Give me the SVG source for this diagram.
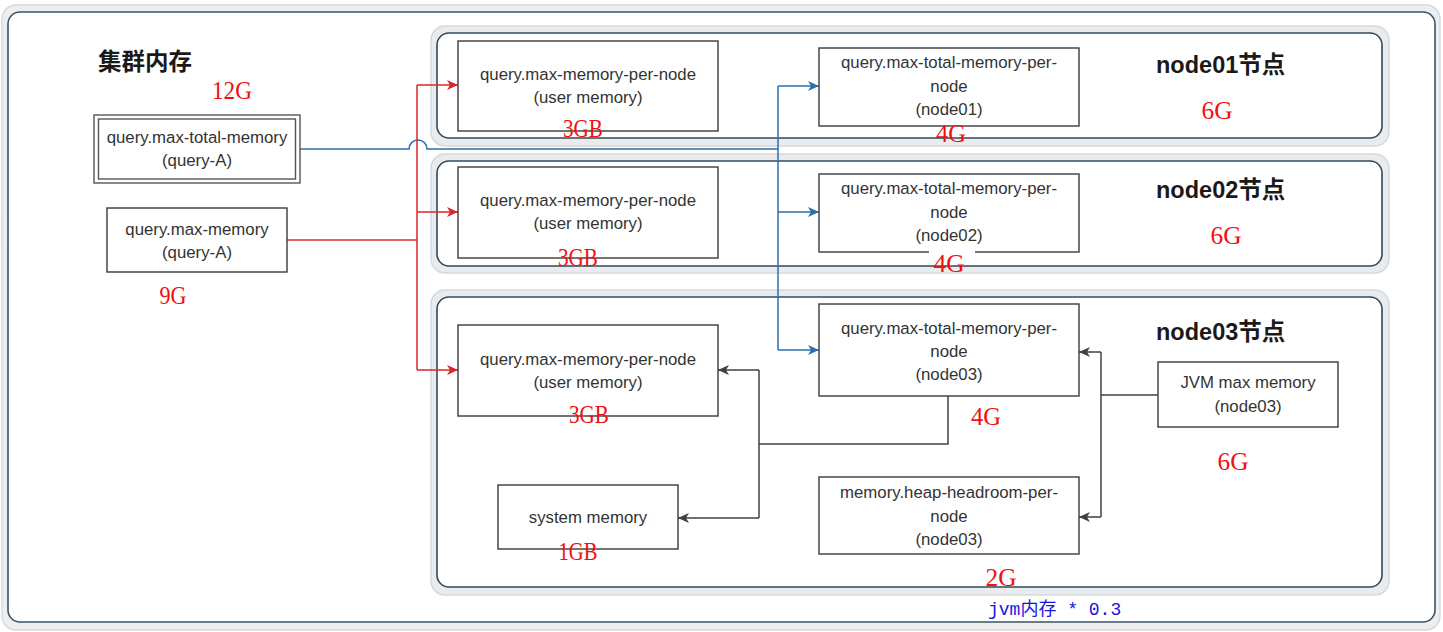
<svg xmlns="http://www.w3.org/2000/svg" width="1443" height="632" viewBox="0 0 1443 632">
<style>
.halo{fill:#e9ebed;stroke:#d6dadd;stroke-width:1.5}
.grp{fill:#fff;stroke:#34495a;stroke-width:1.6}
.box{fill:#fff;stroke:#3a3a3a;stroke-width:1.4}
.t{font-family:"Liberation Sans",Arial,sans-serif;font-size:16.8px;fill:#333;text-anchor:middle}
.h{font-family:"Liberation Sans","Noto Sans CJK SC",sans-serif;font-size:23.5px;font-weight:bold;fill:#1a1a1a}
.v{font-family:"Liberation Serif","Times New Roman",serif;font-size:26px;fill:#f01010;text-anchor:middle}
.red{fill:none;stroke:#d9262b;stroke-width:1.5}
.blue{fill:none;stroke:#2a6fad;stroke-width:1.5}
.dark{fill:none;stroke:#404040;stroke-width:1.5}
</style>
<defs>
<marker id="ar" markerUnits="userSpaceOnUse" markerWidth="12" markerHeight="10" refX="11" refY="5" orient="auto"><path d="M0,0 L11,5 L0,10 L3,5 z" fill="#d9262b"/></marker>
<marker id="ab" markerUnits="userSpaceOnUse" markerWidth="12" markerHeight="10" refX="11" refY="5" orient="auto"><path d="M0,0 L11,5 L0,10 L3,5 z" fill="#2a6fad"/></marker>
<marker id="ad" markerUnits="userSpaceOnUse" markerWidth="12" markerHeight="10" refX="11" refY="5" orient="auto"><path d="M0,0 L11,5 L0,10 L3,5 z" fill="#404040"/></marker>
</defs>
<rect width="1443" height="632" fill="#fff"/>
<g id="frame">
<rect x="2" y="5" width="1438" height="625" rx="14" fill="#eceef0" stroke="#d6dadd" stroke-width="1.5"/>
<rect x="8" y="12" width="1427" height="610" rx="12" fill="#fff" stroke="#3c5366" stroke-width="1.6"/>
</g>
<g id="group-node01">
<rect class="halo" x="431" y="26" width="958" height="120" rx="14"/>
<rect class="grp" x="437" y="33" width="945" height="105" rx="12"/>
<text class="h" x="1156" y="73">node01节点</text>
</g>
<g id="group-node02">
<rect class="halo" x="431" y="154" width="958" height="119" rx="14"/>
<rect class="grp" x="437" y="161" width="945" height="105" rx="12"/>
<text class="h" x="1156" y="198">node02节点</text>
</g>
<g id="group-node03">
<rect class="halo" x="431" y="290" width="958" height="305" rx="14"/>
<rect class="grp" x="437" y="297" width="945" height="290" rx="12"/>
<text class="h" x="1156" y="340">node03节点</text>
</g>
<g id="title">
<text class="h" x="98" y="70">集群内存</text>
</g>
<g id="connectors">
<path class="blue" d="M300,149 H409 A9,9 0 0 1 427,149 H778"/>
<path class="blue" d="M778,86 V350"/>
<path class="blue" d="M778,86 H819" marker-end="url(#ab)"/>
<path class="blue" d="M778,212 H819" marker-end="url(#ab)"/>
<path class="blue" d="M778,350 H819" marker-end="url(#ab)"/>
<path class="red" d="M287,240 H417"/>
<path class="red" d="M417,85 V370"/>
<path class="red" d="M417,85 H458" marker-end="url(#ar)"/>
<path class="red" d="M417,212 H458" marker-end="url(#ar)"/>
<path class="red" d="M417,370 H458" marker-end="url(#ar)"/>
<path class="dark" d="M948,396 V444 H759"/>
<path class="dark" d="M759,370 V518"/>
<path class="dark" d="M759,370 H718" marker-end="url(#ad)"/>
<path class="dark" d="M759,518 H678" marker-end="url(#ad)"/>
<path class="dark" d="M1158,395 H1101"/>
<path class="dark" d="M1101,352 V517"/>
<path class="dark" d="M1101,352 H1079" marker-end="url(#ad)"/>
<path class="dark" d="M1101,517 H1079" marker-end="url(#ad)"/>
</g>
<g id="query-max-total-memory">
<rect x="94" y="115" width="206" height="68" fill="#fff" stroke="#555" stroke-width="1.4"/>
<rect x="98.5" y="119" width="197" height="60" fill="none" stroke="#555" stroke-width="1.4"/>
<text class="t" x="197" y="143">query.max-total-memory</text>
<text class="t" x="197" y="166">(query-A)</text>
<text class="v" x="232" y="99" textLength="40" lengthAdjust="spacingAndGlyphs">12G</text>
</g>
<g id="query-max-memory">
<rect class="box" x="107" y="208" width="180" height="64"/>
<text class="t" x="197" y="235">query.max-memory</text>
<text class="t" x="197" y="258">(query-A)</text>
<text class="v" x="173" y="304" textLength="27" lengthAdjust="spacingAndGlyphs">9G</text>
</g>
<g id="user-memory-node01">
<rect class="box" x="458" y="41" width="260" height="90"/>
<text class="t" x="588" y="80">query.max-memory-per-node</text>
<text class="t" x="588" y="103">(user memory)</text>
<text class="v" x="583" y="137" textLength="40" lengthAdjust="spacingAndGlyphs">3GB</text>
</g>
<g id="total-per-node01">
<rect class="box" x="819" y="48" width="260" height="78"/>
<text class="t" x="949" y="68">query.max-total-memory-per-</text>
<text class="t" x="949" y="92">node</text>
<text class="t" x="949" y="115">(node01)</text>
<text class="v" x="951" y="142" textLength="30" lengthAdjust="spacingAndGlyphs">4G</text>
</g>
<g id="label-node01-6g"><text class="v" x="1217" y="119" textLength="31" lengthAdjust="spacingAndGlyphs">6G</text></g>
<g id="user-memory-node02">
<rect class="box" x="458" y="167" width="260" height="91"/>
<text class="t" x="588" y="206">query.max-memory-per-node</text>
<text class="t" x="588" y="229">(user memory)</text>
<text class="v" x="578" y="266" textLength="40" lengthAdjust="spacingAndGlyphs">3GB</text>
</g>
<g id="total-per-node02">
<rect class="box" x="819" y="174" width="260" height="78"/>
<text class="t" x="949" y="194">query.max-total-memory-per-</text>
<text class="t" x="949" y="218">node</text>
<text class="t" x="949" y="241">(node02)</text>
<rect x="929" y="250" width="46" height="5" fill="#fff"/>
<text class="v" x="949" y="272" textLength="31" lengthAdjust="spacingAndGlyphs">4G</text>
</g>
<g id="label-node02-6g"><text class="v" x="1226" y="244" textLength="31" lengthAdjust="spacingAndGlyphs">6G</text></g>
<g id="user-memory-node03">
<rect class="box" x="458" y="325" width="260" height="91"/>
<text class="t" x="588" y="365">query.max-memory-per-node</text>
<text class="t" x="588" y="388">(user memory)</text>
<text class="v" x="589" y="423" textLength="40" lengthAdjust="spacingAndGlyphs">3GB</text>
</g>
<g id="system-memory">
<rect class="box" x="498" y="485" width="180" height="64"/>
<text class="t" x="588" y="523">system memory</text>
<text class="v" x="578" y="560" textLength="39" lengthAdjust="spacingAndGlyphs">1GB</text>
</g>
<g id="total-per-node03">
<rect class="box" x="819" y="304" width="260" height="92"/>
<text class="t" x="949" y="334">query.max-total-memory-per-</text>
<text class="t" x="949" y="357">node</text>
<text class="t" x="949" y="380">(node03)</text>
<text class="v" x="986" y="425" textLength="30" lengthAdjust="spacingAndGlyphs">4G</text>
</g>
<g id="heap-headroom">
<rect class="box" x="819" y="477" width="260" height="77"/>
<text class="t" x="949" y="498">memory.heap-headroom-per-</text>
<text class="t" x="949" y="522">node</text>
<text class="t" x="949" y="545">(node03)</text>
<text class="v" x="1001" y="586" textLength="31" lengthAdjust="spacingAndGlyphs">2G</text>
<text x="988" y="615" font-family="Liberation Mono,'Noto Sans CJK SC',monospace" font-size="18" fill="#1515e0">jvm内存 * 0.3</text>
</g>
<g id="jvm-max-memory">
<rect class="box" x="1158" y="362" width="180" height="65"/>
<text class="t" x="1248" y="388">JVM max memory</text>
<text class="t" x="1248" y="412">(node03)</text>
<text class="v" x="1233" y="470" textLength="31" lengthAdjust="spacingAndGlyphs">6G</text>
</g>
</svg>
